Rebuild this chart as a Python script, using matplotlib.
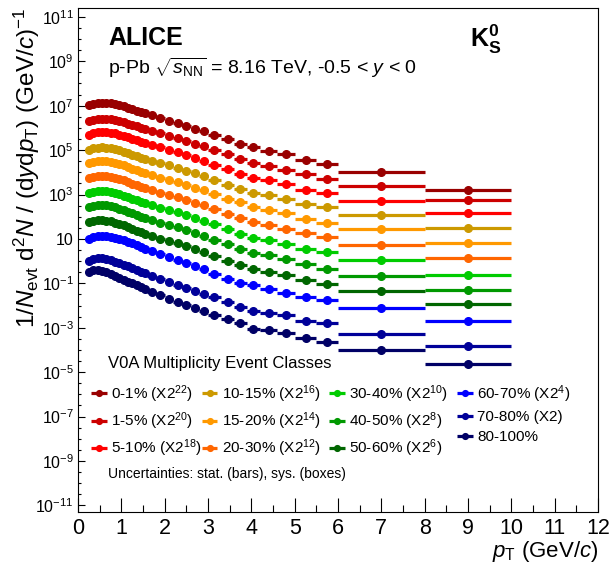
import numpy as np
import matplotlib
matplotlib.use('Agg')
from matplotlib import pyplot as plt
from matplotlib.ticker import FixedLocator, FuncFormatter


plt.rcParams['font.family'] = ['Liberation Sans', 'DejaVu Sans']
plt.rcParams['mathtext.fontset'] = 'custom'
plt.rcParams['mathtext.rm'] = 'Liberation Sans'
plt.rcParams['mathtext.it'] = 'Liberation Sans:italic'
plt.rcParams['mathtext.bf'] = 'Liberation Sans:bold'

# pT bin edges (GeV/c)
PT_EDGES = [0.2, 0.3, 0.4, 0.5, 0.6, 0.7, 0.8, 0.9, 1.0, 1.1, 1.2, 1.3, 1.4, 1.5, 1.6,
            1.8, 2.0, 2.2, 2.4, 2.6, 2.8, 3.0, 3.3, 3.6, 3.9, 4.2, 4.6, 5.0, 5.5, 6.0,
            8.0, 10.0]

CLASSES = ['0-1%', '1-5%', '5-10%', '10-15%', '15-20%', '20-30%',
           '30-40%', '40-50%', '50-60%', '60-70%', '70-80%', '80-100%']
SCALE_POW = [22, 20, 18, 16, 14, 12, 10, 8, 6, 4, 1, 0]
COLORS = ['#990000', '#CC0000', '#FF0000', '#CC9900', '#FF9900', '#FF6600',
          '#00CC00', '#009900', '#006600', '#0000FF', '#000099', '#000066']

# log10 of the unscaled yields 1/Nevt d2N/(dy dpT), one list per class
LOG_0_1 = [0.40, 0.47, 0.51, 0.52, 0.52, 0.50, 0.47, 0.42, 0.36, 0.28, 0.22, 0.16, 0.10, 0.04,
           -0.05, -0.17, -0.29, -0.42, -0.54, -0.66, -0.78, -0.94, -1.12, -1.33, -1.48,
           -1.66, -1.82, -2.08, -2.26, -2.61, -3.40]
LOG_1_5 = [0.28, 0.35, 0.39, 0.40, 0.40, 0.38, 0.35, 0.30, 0.24, 0.17, 0.11, 0.05, -0.01, -0.07,
           -0.15, -0.27, -0.38, -0.49, -0.61, -0.73, -0.85, -1.01, -1.20, -1.40, -1.60,
           -1.75, -1.90, -2.08, -2.30, -2.64, -3.28]
LOG_5_10 = [0.28, 0.34, 0.38, 0.39, 0.38, 0.36, 0.33, 0.28, 0.22, 0.15, 0.08, 0.02, -0.04, -0.10,
            -0.18, -0.30, -0.41, -0.52, -0.64, -0.77, -0.90, -1.08, -1.29, -1.48, -1.66,
            -1.78, -1.93, -2.20, -2.35, -2.71, -3.24]
LOG_10_15 = [0.20, 0.27, 0.30, 0.31, 0.30, 0.28, 0.24, 0.19, 0.12, 0.04, -0.03, -0.09, -0.15, -0.21,
             -0.29, -0.40, -0.51, -0.62, -0.74, -0.86, -0.99, -1.16, -1.37, -1.55, -1.75,
             -1.86, -2.00, -2.26, -2.38, -2.76, -3.31]
LOG_15_20 = [0.21, 0.27, 0.30, 0.30, 0.29, 0.26, 0.22, 0.17, 0.10, 0.02, -0.05, -0.12, -0.18, -0.25,
             -0.33, -0.45, -0.56, -0.67, -0.79, -0.91, -1.03, -1.20, -1.40, -1.55, -1.77,
             -1.92, -2.07, -2.30, -2.52, -2.79, -3.39]
LOG_20_30 = [0.13, 0.19, 0.22, 0.22, 0.21, 0.18, 0.14, 0.09, 0.02, -0.06, -0.13, -0.20, -0.27, -0.33,
             -0.42, -0.53, -0.63, -0.72, -0.85, -0.98, -1.10, -1.28, -1.49, -1.67, -1.85,
             -2.00, -2.15, -2.34, -2.52, -2.87, -3.47]
LOG_30_40 = [0.06, 0.12, 0.15, 0.15, 0.14, 0.11, 0.07, 0.01, -0.06, -0.13, -0.20, -0.27, -0.34, -0.41,
             -0.50, -0.61, -0.71, -0.80, -0.93, -1.06, -1.19, -1.36, -1.57, -1.77, -1.95,
             -2.04, -2.25, -2.45, -2.60, -2.97, -3.62]
LOG_40_50 = [0.03, 0.09, 0.12, 0.12, 0.10, 0.07, 0.02, -0.04, -0.11, -0.18, -0.25, -0.33, -0.40, -0.47,
             -0.56, -0.67, -0.77, -0.87, -1.00, -1.13, -1.26, -1.44, -1.66, -1.85, -2.05,
             -2.15, -2.30, -2.55, -2.75, -3.06, -3.73]
LOG_50_60 = [-0.05, 0.01, 0.04, 0.04, 0.02, -0.02, -0.07, -0.13, -0.20, -0.28, -0.35, -0.43, -0.50, -0.58,
             -0.68, -0.80, -0.91, -1.01, -1.14, -1.27, -1.40, -1.59, -1.81, -2.00, -2.15,
             -2.30, -2.45, -2.64, -2.82, -3.14, -3.76]
LOG_60_70 = [-0.19, -0.10, -0.06, -0.06, -0.08, -0.11, -0.15, -0.21, -0.27, -0.34, -0.41, -0.49, -0.57, -0.65,
             -0.76, -0.90, -1.03, -1.15, -1.30, -1.44, -1.58, -1.77, -1.99, -2.17, -2.26,
             -2.44, -2.64, -2.82, -2.97, -3.31, -3.91]
LOG_70_80 = [-0.30, -0.19, -0.16, -0.18, -0.22, -0.27, -0.33, -0.40, -0.47, -0.54, -0.61, -0.69, -0.77, -0.85,
             -0.96, -1.11, -1.25, -1.38, -1.51, -1.64, -1.77, -1.94, -2.14, -2.37, -2.55,
             -2.64, -2.74, -3.01, -3.09, -3.58, -4.14]
LOG_80_100 = [-0.49, -0.41, -0.40, -0.44, -0.50, -0.57, -0.65, -0.74, -0.83, -0.92, -1.00, -1.09, -1.17, -1.26,
              -1.38, -1.54, -1.69, -1.84, -1.98, -2.12, -2.25, -2.41, -2.60, -2.79, -3.04,
              -3.09, -3.24, -3.45, -3.64, -4.00, -4.63]

SERIES = [LOG_0_1, LOG_1_5, LOG_5_10, LOG_10_15, LOG_15_20, LOG_20_30,
          LOG_30_40, LOG_40_50, LOG_50_60, LOG_60_70, LOG_70_80, LOG_80_100]

# left edge of each legend column, axes fraction
LEGEND_COL_X = [0.027, 0.240, 0.485, 0.731]


def legend_label(name, p):
    if p == 0:
        return name
    if p == 1:
        return name + ' (X2)'
    return name + r' (X2$^{%d}$)' % p


def y_label_fmt(v, pos):
    e = int(round(np.log10(v)))
    if e == 1:
        return '10'
    return r'$10^{%d}$' % e


W, H = 610, 565
fig = plt.figure(figsize=(W / 100, H / 100), dpi=100)
ax = fig.add_axes([78 / W, 1 - 512 / H, 520 / W, 504 / H])

edges = np.array(PT_EDGES)
centers = 0.5 * (edges[1:] + edges[:-1])
half = 0.5 * (edges[1:] - edges[:-1])

handles = []
for vals, p, c in zip(SERIES, SCALE_POW, COLORS):
    y = 10.0 ** np.array(vals) * 2.0 ** p
    h = ax.errorbar(centers, y, xerr=half, fmt='o', color=c, ms=5.5,
                    elinewidth=2.3, capsize=0)
    handles.append(h)

ax.set_yscale('log')
ax.set_xlim(0, 12)
ax.set_ylim(10 ** -11.3, 10 ** 11.4)

ax.xaxis.set_major_locator(FixedLocator(np.arange(0, 13, 1)))
ax.xaxis.set_minor_locator(FixedLocator(np.arange(0.5, 12, 1)))
ax.yaxis.set_major_locator(FixedLocator(10.0 ** np.arange(-11, 12, 2)))
ax.yaxis.set_minor_locator(FixedLocator([10.0 ** k for k in np.arange(-11.5, 11.6, 0.5)
                                         if abs(k - round(k)) > 0.1 or int(round(k)) % 2 == 0]))
ax.yaxis.set_major_formatter(FuncFormatter(y_label_fmt))
ax.yaxis.set_minor_formatter(FuncFormatter(lambda v, pos: ''))

ax.tick_params(axis='x', which='major', direction='in', length=10, width=0.8,
               labelsize=15.5, pad=4)
ax.tick_params(axis='x', which='minor', direction='in', length=5, width=0.8)
ax.tick_params(axis='y', which='major', direction='in', length=5, width=0.8,
               labelsize=11.5, pad=3)
ax.tick_params(axis='y', which='minor', direction='in', length=2.5, width=0.8)
for s in ax.spines.values():
    s.set_linewidth(0.8)

ax.set_xlabel(r'$p_{\mathrm{T}}$ (GeV/$c$)', fontsize=16, loc='right', labelpad=0)
ax.set_ylabel(r'1/$N_{\mathrm{evt}}$ d$^{2}$$N$ / (d$y$d$p_{\mathrm{T}}$) (GeV/$c$)$^{-1}$',
              fontsize=17.5, loc='top')
ax.yaxis.set_label_coords(-0.07, 1.0)

ax.text(0.0575, 0.927, 'ALICE', transform=ax.transAxes, fontsize=18,
        fontweight='bold', va='baseline')
ax.text(0.0575, 0.869, r'p-Pb $\sqrt{s_{\mathrm{NN}}}$ = 8.16 TeV, -0.5 < $y$ < 0',
        transform=ax.transAxes, fontsize=14, va='baseline')
ax.text(0.753, 0.923, r'$\mathbf{K^{0}_{S}}$', transform=ax.transAxes, fontsize=18,
        va='baseline')

ax.text(0.0575, 0.286, 'V0A Multiplicity Event Classes', transform=ax.transAxes,
        fontsize=12, va='baseline')
ax.text(0.0575, 0.067, 'Uncertainties: stat. (bars), sys. (boxes)', transform=ax.transAxes,
        fontsize=10, va='baseline')

labels = [legend_label(n, p) for n, p in zip(CLASSES, SCALE_POW)]
for i, x0 in enumerate(LEGEND_COL_X):
    leg = ax.legend(handles[3 * i:3 * i + 3], labels[3 * i:3 * i + 3], loc='upper left',
                    bbox_to_anchor=(x0, 0.256), frameon=False, fontsize=11,
                    handlelength=0.9, handletextpad=0.35, labelspacing=0.38,
                    borderpad=0, borderaxespad=0, markerscale=0.75)
    if i < len(LEGEND_COL_X) - 1:
        ax.add_artist(leg)

fig.savefig('out.png', dpi=100)
